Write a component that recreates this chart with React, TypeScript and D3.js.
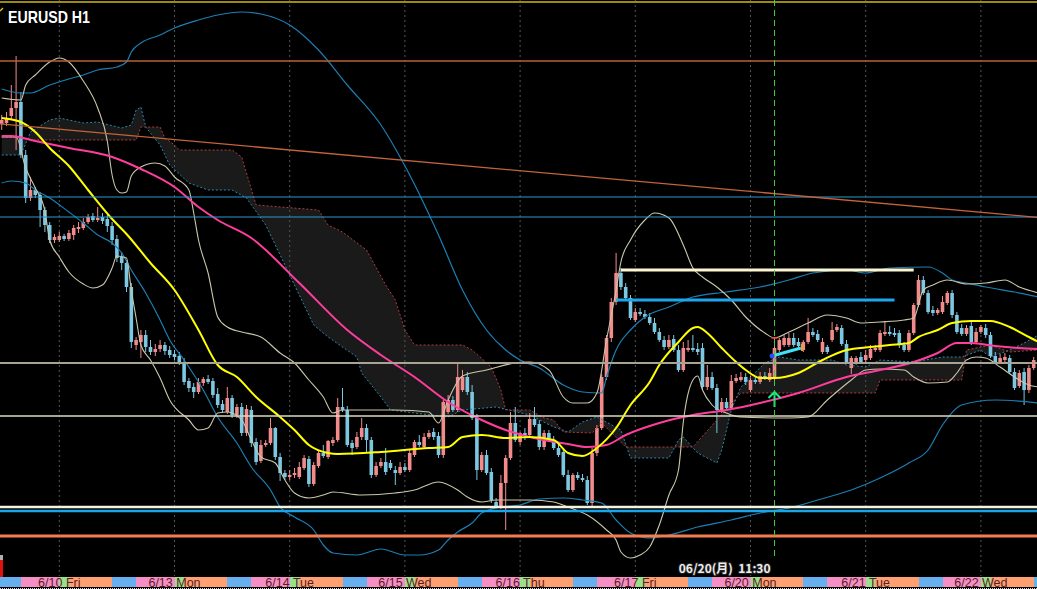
import React, { useEffect, useRef } from 'react';
import * as d3 from 'd3';

type Bar = [number, number, number, number]; // open, high, low, close
type Pt = [number, number]; // bar index, price

// EURUSD H1 candles, one array per trading day (6/9 from 12:00)
const jun09: Bar[] = [
  [1.0746, 1.0755, 1.0740, 1.0750], [1.0747, 1.0758, 1.0744, 1.0752], [1.0754, 1.0785, 1.0750, 1.0762],
  [1.0762, 1.0814, 1.0720, 1.0768], [1.0768, 1.0778, 1.0712, 1.0715], [1.0715, 1.0720, 1.0667, 1.0672],
  [1.0672, 1.0693, 1.0669, 1.0680], [1.0680, 1.0683, 1.0672, 1.0675], [1.0675, 1.0678, 1.0643, 1.0660],
  [1.0660, 1.0663, 1.0638, 1.0645], [1.0645, 1.0648, 1.0627, 1.0630], [1.0630, 1.0636, 1.0627, 1.0633],
];
const jun10: Bar[] = [
  [1.0630, 1.0638, 1.0628, 1.0634], [1.0634, 1.0636, 1.0629, 1.0631], [1.0631, 1.0640, 1.0629, 1.0637],
  [1.0635, 1.0645, 1.0630, 1.0642], [1.0641, 1.0648, 1.0637, 1.0643], [1.0642, 1.0652, 1.0640, 1.0648],
  [1.0648, 1.0656, 1.0646, 1.0653], [1.0654, 1.0657, 1.0648, 1.0650], [1.0650, 1.0663, 1.0648, 1.0652],
  [1.0653, 1.0657, 1.0646, 1.0649], [1.0651, 1.0655, 1.0638, 1.0644], [1.0644, 1.0648, 1.0625, 1.0630],
  [1.0631, 1.0635, 1.0608, 1.0612], [1.0613, 1.0618, 1.0600, 1.0607], [1.0607, 1.0610, 1.0578, 1.0583],
  [1.0583, 1.0587, 1.0522, 1.0528], [1.0525, 1.0533, 1.0520, 1.0530], [1.0528, 1.0540, 1.0512, 1.0535],
  [1.0535, 1.0540, 1.0518, 1.0523], [1.0523, 1.0530, 1.0515, 1.0518], [1.0518, 1.0526, 1.0514, 1.0521],
  [1.0521, 1.0530, 1.0518, 1.0525], [1.0525, 1.0528, 1.0515, 1.0519], [1.0520, 1.0524, 1.0512, 1.0515],
];
const jun13: Bar[] = [
  [1.0516, 1.0520, 1.0510, 1.0513], [1.0514, 1.0518, 1.0505, 1.0508], [1.0508, 1.0512, 1.0485, 1.0488],
  [1.0489, 1.0492, 1.0478, 1.0482], [1.0483, 1.0487, 1.0472, 1.0478], [1.0478, 1.0492, 1.0476, 1.0488],
  [1.0487, 1.0493, 1.0484, 1.0491], [1.0491, 1.0495, 1.0486, 1.0488], [1.0489, 1.0492, 1.0472, 1.0475],
  [1.0476, 1.0482, 1.0462, 1.0465], [1.0466, 1.0470, 1.0457, 1.0460], [1.0458, 1.0483, 1.0456, 1.0472],
  [1.0472, 1.0475, 1.0452, 1.0455], [1.0455, 1.0466, 1.0452, 1.0463], [1.0463, 1.0467, 1.0434, 1.0437],
  [1.0437, 1.0465, 1.0434, 1.0461], [1.0460, 1.0464, 1.0423, 1.0427], [1.0428, 1.0432, 1.0405, 1.0408],
  [1.0409, 1.0430, 1.0407, 1.0425], [1.0425, 1.0430, 1.0423, 1.0427], [1.0427, 1.0452, 1.0425, 1.0442],
  [1.0442, 1.0443, 1.0410, 1.0413], [1.0413, 1.0417, 1.0389, 1.0397], [1.0397, 1.0400, 1.0390, 1.0393],
];
const jun14: Bar[] = [
  [1.0393, 1.0400, 1.0390, 1.0395], [1.0395, 1.0402, 1.0392, 1.0397], [1.0393, 1.0408, 1.0391, 1.0403],
  [1.0402, 1.0415, 1.0400, 1.0412], [1.0411, 1.0414, 1.0383, 1.0386], [1.0386, 1.0408, 1.0384, 1.0405],
  [1.0404, 1.0420, 1.0402, 1.0417], [1.0417, 1.0425, 1.0412, 1.0414], [1.0413, 1.0430, 1.0411, 1.0429],
  [1.0427, 1.0433, 1.0424, 1.0430], [1.0430, 1.0472, 1.0428, 1.0463], [1.0463, 1.0482, 1.0458, 1.0460],
  [1.0460, 1.0464, 1.0423, 1.0425], [1.0427, 1.0430, 1.0415, 1.0422], [1.0423, 1.0438, 1.0421, 1.0433],
  [1.0433, 1.0452, 1.0430, 1.0442], [1.0442, 1.0446, 1.0418, 1.0430], [1.0430, 1.0433, 1.0392, 1.0395],
  [1.0395, 1.0408, 1.0393, 1.0404], [1.0404, 1.0412, 1.0402, 1.0408], [1.0408, 1.0422, 1.0395, 1.0398],
  [1.0407, 1.0410, 1.0400, 1.0402], [1.0400, 1.0404, 1.0385, 1.0397], [1.0397, 1.0408, 1.0395, 1.0403],
];
const jun15: Bar[] = [
  [1.0403, 1.0407, 1.0398, 1.0400], [1.0400, 1.0420, 1.0398, 1.0417], [1.0415, 1.0430, 1.0413, 1.0428],
  [1.0428, 1.0435, 1.0423, 1.0425], [1.0423, 1.0437, 1.0421, 1.0433], [1.0433, 1.0440, 1.0431, 1.0437],
  [1.0438, 1.0442, 1.0430, 1.0433], [1.0434, 1.0438, 1.0412, 1.0415], [1.0415, 1.0470, 1.0412, 1.0468],
  [1.0458, 1.0475, 1.0456, 1.0470], [1.0470, 1.0474, 1.0458, 1.0460], [1.0460, 1.0508, 1.0458, 1.0493],
  [1.0480, 1.0500, 1.0478, 1.0493], [1.0493, 1.0498, 1.0475, 1.0478], [1.0478, 1.0485, 1.0450, 1.0452],
  [1.0452, 1.0456, 1.0390, 1.0400], [1.0400, 1.0418, 1.0398, 1.0415], [1.0415, 1.0420, 1.0395, 1.0397],
  [1.0398, 1.0402, 1.0367, 1.0370], [1.0368, 1.0372, 1.0362, 1.0364], [1.0363, 1.0395, 1.0361, 1.0387],
  [1.0387, 1.0415, 1.0340, 1.0412], [1.0412, 1.0458, 1.0410, 1.0447], [1.0447, 1.0463, 1.0428, 1.0430],
];
const jun16: Bar[] = [
  [1.0428, 1.0438, 1.0425, 1.0437], [1.0437, 1.0442, 1.0430, 1.0434], [1.0435, 1.0457, 1.0433, 1.0451],
  [1.0451, 1.0463, 1.0443, 1.0445], [1.0446, 1.0450, 1.0420, 1.0423], [1.0423, 1.0440, 1.0420, 1.0437],
  [1.0437, 1.0440, 1.0428, 1.0430], [1.0430, 1.0434, 1.0420, 1.0422], [1.0422, 1.0426, 1.0413, 1.0415],
  [1.0418, 1.0422, 1.0393, 1.0395], [1.0395, 1.0400, 1.0378, 1.0380], [1.0380, 1.0397, 1.0378, 1.0395],
  [1.0395, 1.0398, 1.0390, 1.0392], [1.0392, 1.0396, 1.0388, 1.0390], [1.0390, 1.0394, 1.0365, 1.0367],
  [1.0367, 1.0422, 1.0364, 1.0417], [1.0417, 1.0445, 1.0414, 1.0442], [1.0442, 1.0496, 1.0440, 1.0493],
  [1.0493, 1.0535, 1.0490, 1.0532], [1.0532, 1.0572, 1.0528, 1.0568], [1.0568, 1.0617, 1.0565, 1.0597],
  [1.0597, 1.0602, 1.0580, 1.0583], [1.0583, 1.0587, 1.0570, 1.0572], [1.0572, 1.0575, 1.0550, 1.0552],
];
const jun17: Bar[] = [
  [1.0550, 1.0562, 1.0548, 1.0558], [1.0558, 1.0562, 1.0554, 1.0556], [1.0556, 1.0560, 1.0551, 1.0553],
  [1.0553, 1.0557, 1.0545, 1.0547], [1.0547, 1.0552, 1.0536, 1.0538], [1.0538, 1.0542, 1.0528, 1.0530],
  [1.0530, 1.0534, 1.0520, 1.0523], [1.0523, 1.0535, 1.0521, 1.0530], [1.0531, 1.0535, 1.0518, 1.0520],
  [1.0520, 1.0525, 1.0498, 1.0500], [1.0500, 1.0528, 1.0498, 1.0522], [1.0520, 1.0530, 1.0518, 1.0522],
  [1.0522, 1.0535, 1.0518, 1.0520], [1.0521, 1.0527, 1.0515, 1.0518], [1.0522, 1.0527, 1.0480, 1.0483],
  [1.0483, 1.0505, 1.0480, 1.0493], [1.0493, 1.0498, 1.0480, 1.0482], [1.0482, 1.0486, 1.0437, 1.0460],
  [1.0460, 1.0472, 1.0457, 1.0468], [1.0468, 1.0472, 1.0460, 1.0462], [1.0462, 1.0495, 1.0460, 1.0489],
  [1.0489, 1.0496, 1.0487, 1.0492], [1.0490, 1.0498, 1.0488, 1.0493], [1.0493, 1.0497, 1.0485, 1.0488],
];
const jun20: Bar[] = [
  [1.0480, 1.0494, 1.0478, 1.0490], [1.0490, 1.0494, 1.0486, 1.0488], [1.0488, 1.0498, 1.0486, 1.0494],
  [1.0494, 1.0498, 1.0490, 1.0492], [1.0490, 1.0502, 1.0488, 1.0497], [1.0492, 1.0533, 1.0490, 1.0522],
  [1.0520, 1.0532, 1.0518, 1.0530], [1.0525, 1.0535, 1.0523, 1.0532], [1.0525, 1.0537, 1.0523, 1.0532],
  [1.0532, 1.0537, 1.0523, 1.0525], [1.0528, 1.0532, 1.0522, 1.0524], [1.0520, 1.0530, 1.0518, 1.0528],
  [1.0528, 1.0552, 1.0526, 1.0538], [1.0538, 1.0542, 1.0533, 1.0535], [1.0536, 1.0540, 1.0528, 1.0530],
  [1.0518, 1.0532, 1.0516, 1.0528], [1.0523, 1.0525, 1.0516, 1.0518], [1.0530, 1.0548, 1.0528, 1.0540],
  [1.0540, 1.0546, 1.0538, 1.0543], [1.0542, 1.0545, 1.0524, 1.0526], [1.0526, 1.0530, 1.0506, 1.0508],
  [1.0502, 1.0514, 1.0496, 1.0512], [1.0507, 1.0514, 1.0505, 1.0512], [1.0513, 1.0518, 1.0506, 1.0508],
];
const jun21: Bar[] = [
  [1.0510, 1.0520, 1.0508, 1.0515], [1.0512, 1.0525, 1.0510, 1.0521], [1.0520, 1.0525, 1.0518, 1.0522],
  [1.0520, 1.0540, 1.0518, 1.0537], [1.0536, 1.0548, 1.0534, 1.0538], [1.0538, 1.0544, 1.0534, 1.0536],
  [1.0537, 1.0542, 1.0533, 1.0535], [1.0537, 1.0540, 1.0522, 1.0525], [1.0525, 1.0528, 1.0518, 1.0520],
  [1.0520, 1.0540, 1.0518, 1.0537], [1.0537, 1.0567, 1.0535, 1.0565], [1.0565, 1.0595, 1.0563, 1.0590],
  [1.0590, 1.0594, 1.0575, 1.0577], [1.0577, 1.0580, 1.0556, 1.0558], [1.0560, 1.0564, 1.0554, 1.0557],
  [1.0557, 1.0562, 1.0555, 1.0560], [1.0558, 1.0574, 1.0556, 1.0568], [1.0567, 1.0579, 1.0565, 1.0577],
  [1.0577, 1.0580, 1.0552, 1.0555], [1.0555, 1.0558, 1.0536, 1.0538], [1.0542, 1.0546, 1.0534, 1.0536],
  [1.0536, 1.0545, 1.0534, 1.0542], [1.0544, 1.0548, 1.0525, 1.0528], [1.0528, 1.0542, 1.0526, 1.0538],
];
const jun22: Bar[] = [
  [1.0538, 1.0545, 1.0536, 1.0543], [1.0542, 1.0546, 1.0532, 1.0535], [1.0535, 1.0538, 1.0512, 1.0514],
  [1.0514, 1.0518, 1.0506, 1.0508], [1.0508, 1.0516, 1.0506, 1.0512], [1.0510, 1.0517, 1.0508, 1.0513],
  [1.0512, 1.0515, 1.0496, 1.0498], [1.0498, 1.0502, 1.0480, 1.0482], [1.0484, 1.0500, 1.0482, 1.0497],
  [1.0498, 1.0502, 1.0465, 1.0480], [1.0480, 1.0505, 1.0477, 1.0502], [1.0502, 1.0513, 1.0500, 1.0510],
];

// indicator readings [bar, price]
const ma21: Pt[] = [
  [0, 1.0752], [4, 1.0748], [7, 1.0738], [10, 1.0722], [14, 1.0704], [18, 1.0680], [23, 1.0651], [26, 1.0636],
  [31, 1.0607], [36, 1.0580], [41, 1.0540], [45, 1.0505], [49, 1.0493], [53, 1.0473], [58, 1.0453], [61, 1.0440],
  [64, 1.0425], [68, 1.0417], [70, 1.0416], [79, 1.0418], [89, 1.0422], [93, 1.0423], [96, 1.0433], [100, 1.0435],
  [105, 1.0432], [110, 1.0433], [115, 1.0430], [118, 1.0417], [121, 1.0414], [124, 1.0422], [128, 1.0442],
  [131, 1.0465], [135, 1.0488], [137, 1.0505], [141, 1.0528], [144, 1.0542], [145, 1.0543], [147, 1.0537],
  [150, 1.0522], [153, 1.0508], [155, 1.0500], [158, 1.0492], [161, 1.0492], [166, 1.0497], [171, 1.0510],
  [176, 1.0520], [181, 1.0523], [185, 1.0525], [189, 1.0527], [191, 1.0533], [195, 1.0540], [198, 1.0547],
  [202, 1.0549], [206, 1.0549], [210, 1.0543], [214, 1.0533], [216, 1.0528],
];
const ma75: Pt[] = [
  [0, 1.0734], [2, 1.0734], [7, 1.0729], [14, 1.0722], [23, 1.0713], [29, 1.0701], [36, 1.0683], [41, 1.0663],
  [45, 1.0650], [52, 1.0632], [62, 1.0587], [72, 1.0540], [79, 1.0515], [86, 1.0493], [93, 1.0468], [100, 1.0450],
  [105, 1.0440], [110, 1.0433], [118, 1.0426], [122, 1.0423], [126, 1.0425], [130, 1.0435], [137, 1.0447],
  [144, 1.0455], [151, 1.0460], [158, 1.0467], [166, 1.0477], [176, 1.0493], [183, 1.0500], [190, 1.0508],
  [195, 1.0517], [199, 1.0527], [202, 1.0527], [207, 1.0524], [212, 1.0522], [216, 1.0521],
];
const bbUpper21: Pt[] = [
  [0, 1.0772], [4, 1.0770], [5, 1.0785], [7, 1.0795], [10, 1.0808], [12, 1.0812], [14, 1.0808], [17, 1.0789],
  [20, 1.0762], [22, 1.0729], [23, 1.0695], [24, 1.0680], [25, 1.0677], [26, 1.0678], [27, 1.0694], [29, 1.0703],
  [32, 1.0707], [34, 1.0704], [36, 1.0693], [39, 1.0680], [40, 1.0657], [41, 1.0630], [43, 1.0597], [45, 1.0553],
  [47, 1.0543], [50, 1.0538], [54, 1.0533], [58, 1.0517], [61, 1.0507], [64, 1.0490], [67, 1.0473], [69, 1.0457],
  [71, 1.0460], [82, 1.0460], [89, 1.0458], [91, 1.0447], [93, 1.0470], [96, 1.0494], [101, 1.0500], [107, 1.0507],
  [110, 1.0508], [114, 1.0500], [117, 1.0473], [119, 1.0467], [122, 1.0467], [124, 1.0477], [126, 1.0530],
  [128, 1.0580], [129, 1.0608], [131, 1.0630], [134, 1.0650], [136, 1.0657], [139, 1.0652], [142, 1.0625],
  [144, 1.0602], [146, 1.0593], [149, 1.0583], [152, 1.0570], [155, 1.0553], [159, 1.0537], [161, 1.0532],
  [164, 1.0538], [168, 1.0547], [172, 1.0555], [176, 1.0552], [179, 1.0547], [183, 1.0548], [188, 1.0550],
  [190, 1.0552], [192, 1.0580], [194, 1.0585], [197, 1.0590], [201, 1.0586], [205, 1.0587], [209, 1.0590],
  [212, 1.0583], [216, 1.0577],
];
const bbLower21: Pt[] = [
  [0, 1.0733], [3, 1.0733], [5, 1.0702], [7, 1.0682], [9, 1.0659], [10, 1.0630], [12, 1.0613], [14, 1.0598],
  [17, 1.0586], [19, 1.0582], [21, 1.0585], [23, 1.0602], [24, 1.0614], [26, 1.0612], [27, 1.0580], [28, 1.0552],
  [29, 1.0525], [31, 1.0510], [33, 1.0492], [35, 1.0470], [39, 1.0450], [41, 1.0440], [43, 1.0442], [45, 1.0457],
  [47, 1.0458], [50, 1.0450], [52, 1.0430], [54, 1.0413], [57, 1.0407], [59, 1.0390], [61, 1.0377], [64, 1.0372],
  [67, 1.0375], [69, 1.0378], [75, 1.0375], [82, 1.0377], [86, 1.0380], [91, 1.0388], [95, 1.0380], [97, 1.0373],
  [100, 1.0368], [103, 1.0370], [110, 1.0370], [115, 1.0368], [118, 1.0363], [122, 1.0355], [126, 1.0340],
  [128, 1.0330], [129, 1.0318], [131, 1.0312], [133, 1.0315], [135, 1.0323], [137, 1.0345], [139, 1.0375],
  [141, 1.0400], [142, 1.0448], [144, 1.0490], [145, 1.0494], [146, 1.0480], [148, 1.0465], [151, 1.0457],
  [154, 1.0453], [164, 1.0452], [168, 1.0453], [172, 1.0470], [177, 1.0490], [180, 1.0500], [183, 1.0501],
  [188, 1.0500], [190, 1.0493], [193, 1.0487], [197, 1.0488], [199, 1.0497], [201, 1.0510], [203, 1.0513],
  [205, 1.0512], [208, 1.0503], [211, 1.0493], [214, 1.0485], [216, 1.0483],
];
const bbUpper75: Pt[] = [
  [0, 1.0781], [4, 1.0777], [6, 1.0777], [10, 1.0785], [14, 1.0791], [17, 1.0795], [20, 1.0800], [24, 1.0803],
  [26, 1.0808], [27, 1.0818], [29, 1.0827], [33, 1.0835], [36, 1.0842], [41, 1.0850], [45, 1.0855], [50, 1.0858],
  [54, 1.0856], [60, 1.0845], [66, 1.0820], [72, 1.0785], [79, 1.0745], [85, 1.0695], [91, 1.0635], [96, 1.0580],
  [101, 1.0540], [105, 1.0520], [108, 1.0510], [112, 1.0502], [117, 1.0485], [121, 1.0478], [125, 1.0477],
  [126, 1.0493], [128, 1.0520], [131, 1.0540], [134, 1.0553], [139, 1.0563], [144, 1.0573], [151, 1.0578],
  [158, 1.0583], [164, 1.0590], [169, 1.0597], [176, 1.0600], [180, 1.0597], [185, 1.0602], [193, 1.0603],
  [196, 1.0597], [198, 1.0590], [201, 1.0587], [205, 1.0583], [211, 1.0578], [216, 1.0573],
];
const bbLower75: Pt[] = [
  [0, 1.0687], [2, 1.0689], [5, 1.0687], [7, 1.0680], [10, 1.0672], [14, 1.0658], [17, 1.0647], [20, 1.0635],
  [23, 1.0627], [25, 1.0617], [27, 1.0600], [30, 1.0577], [33, 1.0550], [35, 1.0530], [38, 1.0510], [42, 1.0480],
  [45, 1.0453], [49, 1.0427], [52, 1.0403], [56, 1.0380], [58, 1.0363], [61, 1.0353], [65, 1.0340], [67, 1.0325],
  [69, 1.0317], [74, 1.0315], [79, 1.0321], [84, 1.0315], [87, 1.0315], [91, 1.0320], [93, 1.0330], [95, 1.0338],
  [98, 1.0347], [100, 1.0357], [104, 1.0363], [108, 1.0365], [112, 1.0371], [117, 1.0372], [121, 1.0370],
  [125, 1.0367], [128, 1.0350], [131, 1.0337], [135, 1.0332], [139, 1.0335], [145, 1.0343], [152, 1.0350],
  [158, 1.0357], [164, 1.0362], [170, 1.0370], [177, 1.0380], [183, 1.0392], [189, 1.0407], [193, 1.0420],
  [196, 1.0445], [200, 1.0465], [207, 1.0470], [216, 1.0467],
];
const senkouA: Pt[] = [
  [0, 1.0715], [4, 1.0715], [6, 1.0738], [10, 1.0750], [12, 1.0752], [17, 1.0747], [20, 1.0748], [25, 1.0742],
  [27, 1.0745], [28, 1.0760], [29, 1.0763], [30, 1.0743], [33, 1.0725], [35, 1.0705], [39, 1.0687], [43, 1.0680],
  [48, 1.0680], [51, 1.0672], [55, 1.0645], [60, 1.0595], [65, 1.0545], [68, 1.0533], [74, 1.0513], [75, 1.0497],
  [79, 1.0473], [81, 1.0460], [86, 1.0457], [93, 1.0453], [96, 1.0460], [103, 1.0463], [110, 1.0455], [115, 1.0443],
  [118, 1.0438], [121, 1.0448], [124, 1.0453], [129, 1.0440], [131, 1.0412], [139, 1.0412], [141, 1.0430],
  [142, 1.0433], [145, 1.0417], [149, 1.0407], [150, 1.0420], [152, 1.0460], [154, 1.0483], [159, 1.0507],
  [162, 1.0513], [166, 1.0510], [173, 1.0510], [176, 1.0505], [180, 1.0503], [183, 1.0510], [190, 1.0508],
  [196, 1.0513], [200, 1.0513], [204, 1.0520], [206, 1.0513], [210, 1.0520], [213, 1.0527], [216, 1.0535],
];
const senkouB: Pt[] = [
  [0, 1.0733], [5, 1.0732], [6, 1.0730], [28, 1.0730], [29, 1.0743], [33, 1.0743], [34, 1.0732], [36, 1.0725],
  [37, 1.0720], [48, 1.0720], [50, 1.0713], [53, 1.0665], [66, 1.0660], [68, 1.0645], [71, 1.0638], [76, 1.0620],
  [80, 1.0585], [82, 1.0570], [84, 1.0540], [86, 1.0525], [96, 1.0525], [98, 1.0520], [102, 1.0503], [104, 1.0480],
  [105, 1.0460], [110, 1.0460], [113, 1.0452], [115, 1.0450], [117, 1.0438], [123, 1.0437], [125, 1.0447],
  [130, 1.0423], [144, 1.0423], [154, 1.0477], [182, 1.0477], [183, 1.0490], [200, 1.0490], [201, 1.0520],
  [206, 1.0525], [210, 1.0518], [216, 1.0520],
];

// drawn objects
const hLevels = [1.0868, 1.0809, 1.0673, 1.0653, 1.0507, 1.0454, 1.0363, 1.0359, 1.0334];
const trendAnchors: Pt[] = [[0, 1.0746], [215, 1.0653]];
const ivorySegment = { from: 129, to: 190, price: 1.0600 };
const blueSegment = { from: 128, to: 186, price: 1.0570 };
const cyanArrow: Pt[] = [[160.5, 1.0514], [166.5, 1.0522]];
const signalBar = 161;
const signalTip = 1.0478;
const signalTail = 1.0463;
const signalHigh = 1.0532;
const vlineLabel = '06/20(月)  11:30';
const dayStarts = [12, 36, 60, 84, 108, 132, 156, 180, 204];
const dayLabels = ['6/10 Fri', '6/13 Mon', '6/14 Tue', '6/15 Wed', '6/16 Thu', '6/17 Fri', '6/20 Mon', '6/21 Tue', '6/22 Wed'];
const firstHour = 12;
const title = 'EURUSD H1';

const W = 1037;
const H = 589;

export default function App() {
  const svgRef = useRef<SVGSVGElement>(null);

  useEffect(() => {
    if (!svgRef.current) return;
    const svg = d3.select(svgRef.current);
    svg.selectAll('*').remove();

    const plotBottom = 576;
    const x = d3.scaleLinear().domain([0, 215]).range([1.7, 1033.7]);
    const y = d3.scaleLinear().domain([1.0870, 1.0281]).range([0, H]);

    const candles = [...jun09, ...jun10, ...jun13, ...jun14, ...jun15, ...jun16, ...jun17, ...jun20, ...jun21, ...jun22]
      .map((d, i) => ({ i, o: d[0], h: d[1], l: d[2], c: d[3] }));

    svg.append('rect').attr('width', W).attr('height', H).attr('fill', '#000');

    svg.append('defs').append('clipPath').attr('id', 'plot')
      .append('rect').attr('width', W).attr('height', plotBottom);

    const plot = svg.append('g').attr('clip-path', 'url(#plot)');

    // Ichimoku cloud fill
    const pxA = senkouA.map(p => [x(p[0]), y(p[1])] as [number, number]);
    const pxB = senkouB.map(p => [x(p[0]), y(p[1])] as [number, number]);
    plot.append('path')
      .attr('d', d3.line()([...pxA, ...pxB.slice().reverse()]) + 'Z')
      .attr('fill', '#1a1a1a');

    // day separators
    plot.selectAll('line.sep').data(dayStarts).join('line')
      .attr('x1', d => x(d)).attr('x2', d => x(d)).attr('y1', 0).attr('y2', plotBottom)
      .attr('stroke', '#565656').attr('stroke-dasharray', '2,3');

    // candles
    const bull = '#f28b8b';
    const bear = '#7cc8e2';
    const cg = plot.append('g');
    cg.selectAll('line').data(candles).join('line')
      .attr('x1', d => x(d.i)).attr('x2', d => x(d.i))
      .attr('y1', d => y(d.h)).attr('y2', d => y(d.l))
      .attr('stroke', d => (d.c >= d.o ? bull : bear)).attr('stroke-width', 1);
    cg.selectAll('rect').data(candles).join('rect')
      .attr('x', d => x(d.i) - 1.8).attr('width', 3.6)
      .attr('y', d => y(Math.max(d.o, d.c)))
      .attr('height', d => Math.max(1, Math.abs(y(d.o) - y(d.c))))
      .attr('fill', d => (d.c >= d.o ? bull : bear));

    const smooth = d3.line<Pt>().x(d => x(d[0])).y(d => y(d[1])).curve(d3.curveMonotoneX);
    const straight = d3.line<Pt>().x(d => x(d[0])).y(d => y(d[1]));

    // cloud borders
    plot.append('path').attr('d', straight(senkouA)).attr('fill', 'none')
      .attr('stroke', '#2a88ad').attr('stroke-dasharray', '2,2');
    plot.append('path').attr('d', straight(senkouB)).attr('fill', 'none')
      .attr('stroke', '#b03c3c').attr('stroke-dasharray', '2,2');

    // bollinger bands
    [bbUpper75, bbLower75].forEach(s => plot.append('path').attr('d', smooth(s)).attr('fill', 'none')
      .attr('stroke', '#1c7fb3').attr('stroke-width', 1.2));
    [bbUpper21, bbLower21].forEach(s => plot.append('path').attr('d', smooth(s)).attr('fill', 'none')
      .attr('stroke', '#cbc7ab').attr('stroke-width', 1.1));

    // moving averages
    plot.append('path').attr('d', smooth(ma75)).attr('fill', 'none').attr('stroke', '#ff3d9e').attr('stroke-width', 2);
    plot.append('path').attr('d', smooth(ma21)).attr('fill', 'none').attr('stroke', '#ffff00').attr('stroke-width', 2);

    // horizontal levels
    const hStyles = [
      { c: '#9c8a10', w: 2 }, { c: '#b8603a', w: 1.5 }, { c: '#2a9ad0', w: 1 }, { c: '#2a9ad0', w: 1 },
      { c: '#a8a494', w: 2 }, { c: '#dcd8c0', w: 1.3 }, { c: '#f4f2e2', w: 2.5 }, { c: '#18a6e8', w: 2.5 },
      { c: '#f47c52', w: 3 },
    ];
    hLevels.forEach((p, k) => {
      plot.append('line').attr('x1', 0).attr('x2', W).attr('y1', y(p)).attr('y2', y(p))
        .attr('stroke', hStyles[k].c).attr('stroke-width', hStyles[k].w);
    });

    // long trend line across the chart
    const slope = (trendAnchors[1][1] - trendAnchors[0][1]) / (trendAnchors[1][0] - trendAnchors[0][0]);
    const bLeft = x.invert(0), bRight = x.invert(W);
    plot.append('line')
      .attr('x1', 0).attr('y1', y(trendAnchors[0][1] + slope * (bLeft - trendAnchors[0][0])))
      .attr('x2', W).attr('y2', y(trendAnchors[0][1] + slope * (bRight - trendAnchors[0][0])))
      .attr('stroke', '#c4643a').attr('stroke-width', 1.3);

    // horizontal segments
    plot.append('line').attr('x1', x(ivorySegment.from)).attr('x2', x(ivorySegment.to))
      .attr('y1', y(ivorySegment.price)).attr('y2', y(ivorySegment.price))
      .attr('stroke', '#fbf5d2').attr('stroke-width', 3);
    plot.append('line').attr('x1', x(blueSegment.from)).attr('x2', x(blueSegment.to))
      .attr('y1', y(blueSegment.price)).attr('y2', y(blueSegment.price))
      .attr('stroke', '#1ea6ec').attr('stroke-width', 3);

    // vertical marker line
    const vx = x(signalBar);
    svg.append('line').attr('x1', vx).attr('x2', vx).attr('y1', 0).attr('y2', 558)
      .attr('stroke', '#3ccc3c').attr('stroke-dasharray', '6,4');

    // cyan arrow
    plot.append('line')
      .attr('x1', x(cyanArrow[0][0])).attr('y1', y(cyanArrow[0][1]))
      .attr('x2', x(cyanArrow[1][0])).attr('y2', y(cyanArrow[1][1]))
      .attr('stroke', '#3fe3f5').attr('stroke-width', 3);
    plot.append('circle').attr('cx', x(cyanArrow[0][0])).attr('cy', y(cyanArrow[0][1])).attr('r', 2.5)
      .attr('fill', '#2a4cff');
    plot.append('rect').attr('x', x(cyanArrow[1][0])).attr('y', y(cyanArrow[1][1]) - 4).attr('width', 2).attr('height', 7)
      .attr('fill', '#f0a030');

    // red tick at signal high
    plot.append('line').attr('x1', vx - 3).attr('x2', vx + 3).attr('y1', y(signalHigh)).attr('y2', y(signalHigh))
      .attr('stroke', '#ff3030').attr('stroke-width', 1.5);

    // green up arrow
    const ty = y(signalTip), tl = y(signalTail);
    plot.append('path')
      .attr('d', `M${vx},${tl} L${vx},${ty} M${vx - 6},${ty + 6} L${vx},${ty} L${vx + 6},${ty + 6}`)
      .attr('fill', 'none').attr('stroke', '#19f08a').attr('stroke-width', 2);

    // time bar with session colours
    const sessionColor = (h: number) =>
      h < 2 ? '#98e28c' : h < 11 ? '#ffa072' : h < 16 ? '#66b0f0' : '#f58fc6';
    const tb = svg.append('g').attr('shape-rendering', 'crispEdges');
    tb.append('rect').attr('x', 0).attr('width', x(0) + 1).attr('y', 577).attr('height', 10).attr('fill', '#66b0f0');
    tb.selectAll('rect.s').data(candles).join('rect')
      .attr('x', d => x(d.i)).attr('width', d => (d.i === 215 ? W - x(d.i) : x(d.i + 1) - x(d.i) + 0.6))
      .attr('y', 577).attr('height', 10)
      .attr('fill', d => sessionColor((d.i + firstHour) % 24));

    svg.append('g').selectAll('text').data(dayStarts).join('text')
      .attr('x', d => x(d)).attr('y', 586.5)
      .attr('text-anchor', 'middle')
      .attr('font-family', '"Liberation Sans", Arial, sans-serif').attr('font-size', 12.5)
      .attr('fill', '#5c1c24')
      .text((d, k) => dayLabels[k]);

    svg.append('line').attr('x1', 0).attr('x2', W).attr('y1', 588.5).attr('y2', 588.5)
      .attr('stroke', '#d8d8d8').attr('stroke-dasharray', '1,1');

    // small widgets at left
    svg.append('rect').attr('x', 0).attr('y', 555).attr('width', 3).attr('height', 5).attr('fill', '#b0b0b0');
    svg.append('rect').attr('x', 0).attr('y', 560).attr('width', 3).attr('height', 17).attr('fill', '#e01010');
    svg.append('path').attr('d', 'M0,11 L3,8').attr('stroke', '#e0c020').attr('stroke-width', 1.5);

    // vertical line label
    svg.append('text').attr('x', vx - 4).attr('y', 573)
      .attr('text-anchor', 'end')
      .attr('font-family', '"Noto Sans CJK JP", "DejaVu Sans", sans-serif').attr('font-weight', 'bold')
      .attr('font-size', 12).attr('fill', '#eeeeee')
      .attr('stroke', '#222').attr('stroke-width', 2).attr('paint-order', 'stroke')
      .style('white-space', 'pre')
      .text(vlineLabel);

    // title
    svg.append('text').attr('x', 8).attr('y', 23)
      .attr('font-family', '"Liberation Sans", Arial, sans-serif').attr('font-weight', 'bold')
      .attr('font-size', 17).attr('fill', '#ffffff')
      .attr('textLength', 82).attr('lengthAdjust', 'spacingAndGlyphs')
      .attr('stroke', '#000').attr('stroke-width', 3).attr('paint-order', 'stroke')
      .text(title);
  }, []);

  return (
    <div style={{ width: W, height: H, background: '#000' }}>
      <style>{'body{margin:0;background:#000}'}</style>
      <svg ref={svgRef} width={W} height={H} style={{ display: 'block' }} />
    </div>
  );
}
